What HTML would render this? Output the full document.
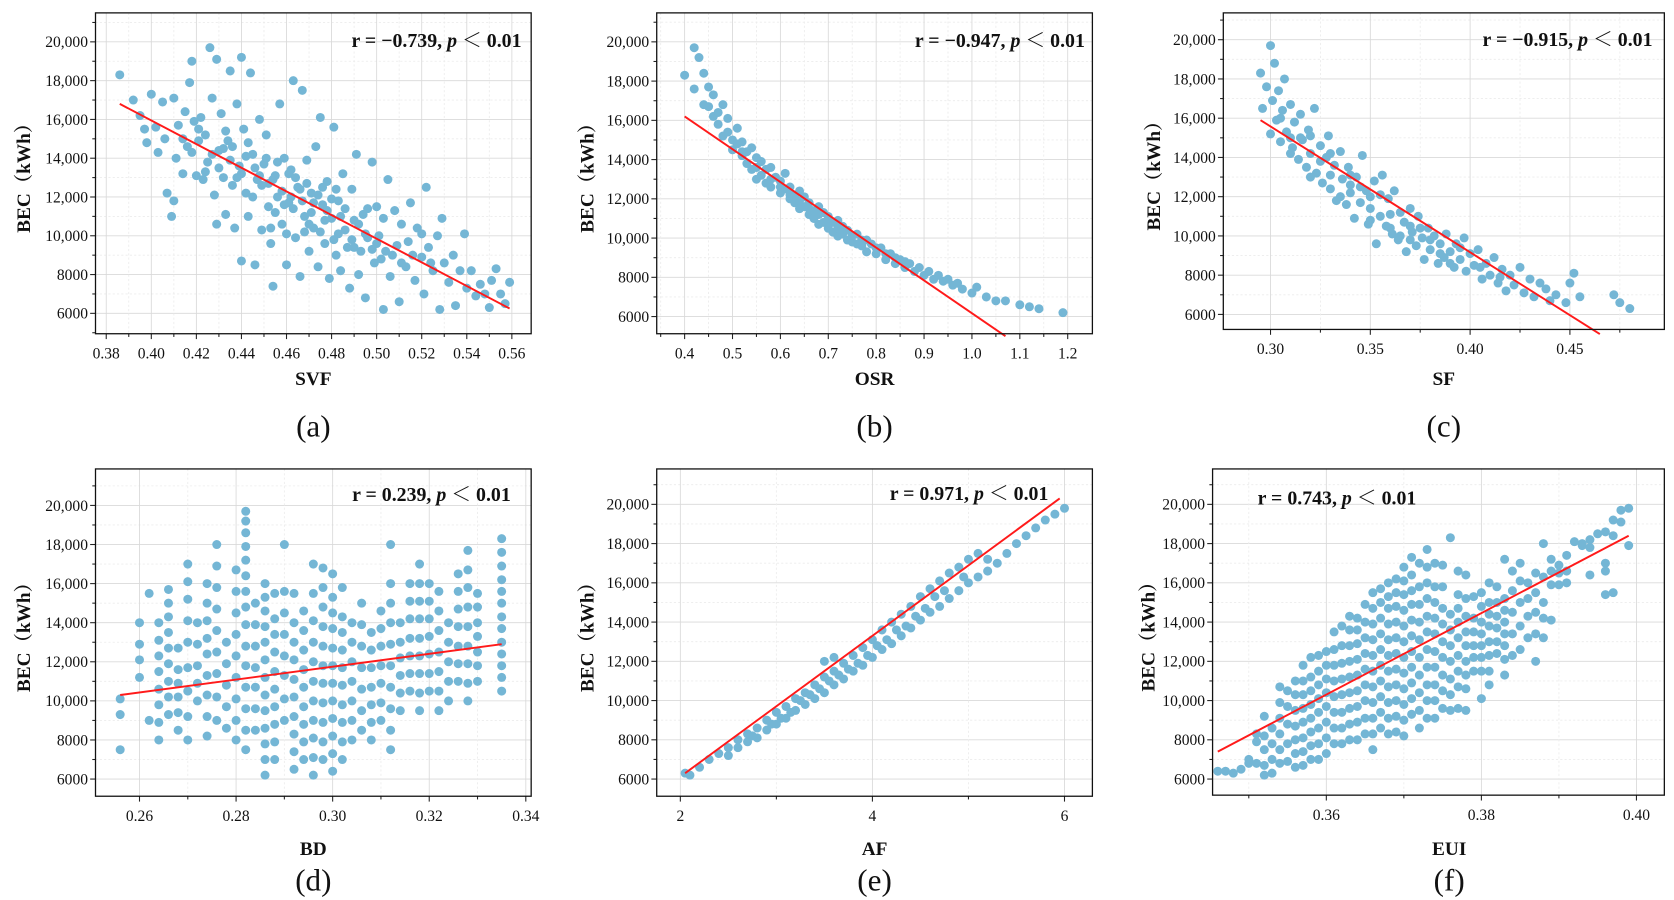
<!DOCTYPE html>
<html><head><meta charset="utf-8"><style>
html,body{margin:0;padding:0;background:#fff;}
svg{display:block;}
text{font-family:"Liberation Serif","Noto Serif CJK SC",serif;fill:#111;}
</style></head><body>
<svg id="fig" width="1674" height="900" viewBox="0 0 1560 838.7" xmlns="http://www.w3.org/2000/svg"></svg>
<script>
// ---- data (BEC in thousand kWh) ----
const svfX=[0.386,0.392,0.395,0.397,0.398,0.400,0.402,0.403,0.405,0.406,0.407,0.409,0.410,0.410,0.411,0.412,0.414,0.415,0.416,0.417,0.418,0.419,0.420,0.421,0.422,0.423,0.424,0.425,0.426,0.427,0.428,0.429,0.429,0.430,0.431,0.432,0.433,0.434,0.435,0.436,0.437,0.438,0.439,0.440,0.440,0.441,0.442,0.443,0.444,0.445,0.446,0.447,0.448,0.449,0.450,0.451,0.452,0.453,0.454,0.455,0.456,0.457,0.458,0.459,0.460,0.461,0.462,0.463,0.464,0.465,0.466,0.467,0.468,0.469,0.470,0.471,0.472,0.473,0.474,0.475,0.476,0.477,0.478,0.479,0.480,0.481,0.482,0.483,0.484,0.485,0.486,0.488,0.489,0.490,0.491,0.492,0.494,0.495,0.496,0.498,0.499,0.500,0.501,0.503,0.504,0.505,0.506,0.508,0.509,0.510,0.511,0.513,0.514,0.515,0.517,0.518,0.520,0.521,0.522,0.523,0.525,0.527,0.528,0.529,0.530,0.532,0.534,0.535,0.537,0.539,0.540,0.542,0.544,0.546,0.548,0.550,0.551,0.553,0.555,0.557,0.559,0.445,0.448,0.452,0.455,0.458,0.461,0.463,0.466,0.468,0.471,0.474,0.477,0.480,0.483,0.486,0.489,0.492,0.495,0.498,0.502,0.438,0.442,0.435,0.432,0.427,
 0.440,0.443,0.446,0.449,0.451,0.454,0.456,0.459,0.462,0.464,0.467,0.469,0.472,0.475,0.478,0.481,0.484,0.487,0.490,0.493,0.496,0.500,0.503,0.507,0.511,0.516,0.520,0.524,0.418,0.414,0.421,0.424,0.430,0.433,0.436,0.453,0.460,0.470,0.476,0.482];
const svfY=[18.3,17.0,16.2,15.5,14.8,17.3,15.6,14.3,16.9,15.0,12.2,11.0,11.8,17.1,14.0,15.7,13.2,16.4,14.6,17.9,19.0,15.9,13.1,14.9,16.1,12.9,15.2,13.8,19.7,17.1,12.1,10.6,19.1,14.4,16.3,13.0,11.1,14.9,18.5,12.6,10.4,16.8,13.6,19.2,8.7,15.5,12.2,11.0,18.4,14.2,8.5,12.9,16.0,10.3,13.7,15.2,11.5,9.6,7.4,13.1,12.0,16.8,10.6,14.0,8.5,11.7,13.4,18.0,9.9,12.5,7.9,17.5,11.0,13.9,9.2,12.2,10.4,14.6,8.4,16.1,11.6,9.6,12.8,7.8,10.9,15.6,9.0,11.8,8.2,13.2,10.3,7.3,12.4,9.4,14.2,8.0,11.1,6.8,9.9,13.8,8.6,11.5,10.0,6.2,9.2,12.9,7.9,11.3,9.5,6.6,10.6,8.4,9.7,11.7,7.7,10.4,8.9,7.0,12.5,9.4,8.2,10.0,6.2,10.9,8.6,7.6,9.0,6.4,8.2,10.1,7.3,8.2,6.9,7.5,7.0,6.3,7.7,8.3,7.0,6.5,7.6,12.0,13.1,12.7,11.2,12.3,13.2,11.4,12.4,10.2,11.2,12.1,10.8,11.9,10.1,11.4,9.8,10.6,10.1,9.3,8.8,13.0,14.1,13.9,14.5,14.2,
 13.2,14.8,13.5,12.6,14.0,12.9,13.8,11.6,12.0,13.0,11.8,12.7,11.7,10.2,11.3,9.8,11.0,9.4,10.8,9.2,11.4,9.6,10.9,9.0,8.6,9.0,10.1,8.6,14.3,15.0,15.5,13.3,13.5,15.4,14.6,10.4,10.1,10.6,12.5,12.4];
const osrX=[0.40,0.42,0.43,0.42,0.44,0.44,0.45,0.46,0.46,0.47,0.48,0.48,0.49,0.50,0.50,0.51,0.52,0.52,0.53,0.54,0.54,0.55,0.56,0.56,0.57,0.58,0.58,0.59,0.60,0.60,0.61,0.62,0.62,0.63,0.64,0.64,0.65,0.66,0.66,0.67,0.68,0.68,0.69,0.70,0.70,0.71,0.72,0.72,0.73,0.74,0.74,0.75,0.76,0.77,0.78,0.78,0.79,0.80,0.81,0.82,0.83,0.84,0.85,0.86,0.87,0.88,0.89,0.90,0.91,0.92,0.93,0.94,0.95,0.96,0.97,0.98,1.00,1.01,1.03,1.05,1.07,1.10,1.12,1.14,1.19,0.55,0.57,0.61,0.63,0.65,0.67,0.69,0.71,0.73,0.76,0.53,0.51,0.47,
 0.45,0.49,0.52,0.55,0.58,0.60,0.62,0.64,0.66,0.68,0.70,0.72,0.75,0.77,0.80,0.82,0.84,0.86];
const osrY=[18.3,19.7,19.2,17.6,18.4,16.8,17.7,16.2,17.3,15.8,16.8,15.2,16.1,15.0,14.5,15.6,14.2,14.9,13.8,14.6,13.5,14.1,13.2,13.9,12.8,13.6,12.6,13.1,12.3,12.9,13.3,12.0,12.6,11.8,12.4,11.5,12.1,11.2,11.8,11.0,11.6,10.7,11.3,10.5,11.1,10.3,10.9,10.1,10.6,9.9,10.4,9.8,10.2,9.6,9.9,9.3,9.7,9.2,9.5,8.9,9.2,8.7,8.9,8.5,8.7,8.3,8.5,8.1,8.3,7.9,8.1,7.8,7.9,7.6,7.7,7.4,7.2,7.5,7.0,6.8,6.8,6.6,6.5,6.4,6.2,13.0,13.5,12.5,12.2,11.6,11.4,10.8,10.8,10.2,9.7,14.4,14.8,16.4,
 16.7,15.4,14.4,13.6,13.0,12.6,12.2,11.9,11.5,11.2,10.8,10.5,10.1,9.9,9.5,9.2,9.0,8.8];
const sfX=[0.295,0.296,0.298,0.300,0.300,0.301,0.302,0.303,0.304,0.305,0.306,0.307,0.308,0.310,0.311,0.312,0.314,0.315,0.316,0.318,0.319,0.320,0.322,0.323,0.325,0.326,0.328,0.329,0.330,0.332,0.333,0.335,0.336,0.338,0.339,0.340,0.342,0.343,0.345,0.346,0.348,0.349,0.350,0.352,0.353,0.355,0.356,0.358,0.359,0.361,0.362,0.364,0.365,0.367,0.368,0.370,0.371,0.373,0.374,0.376,0.377,0.379,0.380,0.382,0.384,0.385,0.387,0.388,0.390,0.392,0.393,0.395,0.397,0.398,0.400,0.402,0.404,0.406,0.408,0.410,0.412,0.414,0.416,0.418,0.420,0.422,0.425,0.427,0.430,0.432,0.435,0.438,0.440,0.443,0.448,0.450,0.452,0.455,0.472,0.475,0.480,0.31,0.32,0.33,0.34,0.35,0.36,0.37,0.38,
 0.305,0.31,0.315,0.32,0.325,0.33,0.335,0.34,0.345,0.35,0.355,0.36,0.365,0.37,0.375,0.385,0.39,0.395,0.405,0.415];
const sfY=[18.3,16.5,17.6,19.7,15.2,16.9,18.8,15.9,17.4,14.8,16.4,18.0,15.3,16.7,14.5,15.8,13.9,16.2,14.9,13.5,15.4,14.2,16.5,13.2,14.6,12.7,14.0,15.1,12.4,13.6,11.8,14.3,12.9,11.6,13.5,12.2,10.9,13.0,11.7,14.1,12.3,10.6,11.4,12.8,9.6,11.0,13.1,10.5,11.9,10.1,12.3,9.8,11.2,10.7,9.2,11.4,10.2,9.5,11.0,9.9,8.8,10.4,9.3,10.0,8.6,9.6,8.9,10.1,9.2,8.4,9.6,8.8,9.9,8.2,9.1,8.5,9.3,7.8,8.6,8.0,8.9,7.6,8.3,7.2,8.0,7.5,8.4,7.1,7.8,6.9,7.6,7.3,6.7,7.0,6.6,7.6,8.1,6.9,7.0,6.6,6.3,15.0,15.1,13.1,12.6,12.0,11.1,10.5,9.8,
 16.0,14.2,15.0,13.0,13.8,14.2,12.0,13.1,12.5,10.8,12.1,10.4,10.0,9.8,10.4,9.1,8.6,9.4,8.4,7.9];
const bdCols=[0.256,0.260,0.262,0.264,0.266,0.268,0.270,0.272,0.274,0.276,0.278,0.280,0.282,0.284,0.286,0.288,0.290,0.292,0.294,0.296,0.298,0.300,0.302,0.304,0.306,0.308,0.310,0.312,0.314,0.316,0.318,0.320,0.322,0.324,0.326,0.328,0.330,0.335];
const bdVals=[[7.5,9.3,10.1],[11.2,12.1,12.9,14.0],[9.0,15.5],[8.0,8.9,9.8,10.6,11.5,12.3,13.1,14.0],[9.3,10.2,11.0,11.9,12.7,13.5,14.3,15.0,15.7],[8.5,9.4,10.2,10.9,11.6,12.7],[8.0,9.2,10.5,11.7,13.0,14.1,15.2,16.1,17.0],[10.0,10.9,11.8,12.9,14.0],[8.2,9.2,10.3,11.3,12.4,13.2,14.1,15.0,16.0],[9.0,10.2,11.4,12.5,13.6,14.7,15.8,16.9,18.0],[8.6,9.7,10.8,11.9,13.0],[8.0,9.0,10.1,11.2,12.3,13.4,14.5,15.6,16.7],[7.5,8.5,9.6,10.7,11.8,12.8,13.9,14.8,15.6,16.4,17.2,17.9,18.6,19.2,19.7],[8.5,9.6,10.7,11.7,12.8,13.9,15.0],[6.2,7.0,7.8,8.6,9.5,10.3,11.2,12.1,13.0,13.8,14.6,15.3,16.0],[7.0,7.9,8.8,9.7,10.6,11.5,12.5,13.4,14.2,15.5],[9.0,10.1,11.3,12.3,13.4,14.5,15.6,18.0],[6.5,7.4,8.3,9.2,10.2,11.1,12.1,13.0,14.0,15.5],[7.0,7.9,8.8,9.7,10.7,11.6,12.6,13.6,14.6],[6.2,7.1,8.1,9.0,10.0,11.0,12.0,13.0,14.1,15.5,17.0],[7.0,7.9,8.9,9.9,10.9,11.8,12.8,13.8,14.8,15.8,16.8],[6.4,7.3,8.2,9.1,10.0,10.9,11.8,12.7,13.7,14.5,15.3,16.5],[7.0,7.9,8.9,9.8,10.8,11.7,12.6,13.5,14.3,15.8],[8.0,9.0,10.0,11.0,12.0,13.0,14.0],[8.5,9.5,10.6,11.7,12.8,13.9,15.0],[8.0,8.9,9.8,10.7,11.7,12.6,13.5],[9.0,9.9,10.9,11.8,12.8,13.7,14.6],[7.5,8.5,9.6,10.7,11.8,12.9,14.0,15.0,16.0,18.0],[9.5,10.4,11.3,12.2,13.0,14.0],[10.5,11.4,12.3,13.2,14.2,15.1,16.0],[9.5,10.4,11.4,12.3,13.2,14.2,15.1,16.0,17.0],[10.5,11.4,12.4,13.3,14.2,15.1,16.0],[9.5,10.5,11.5,12.5,13.6,14.6,15.6],[10.0,11.0,12.0,13.0,14.0],[11.0,11.9,12.8,13.8,14.7,15.6,16.5],[10.0,10.9,11.9,12.8,13.8,14.8,15.8,16.7,17.7],[11.0,11.8,12.5,13.3,14.0,14.8,15.5],[10.5,11.2,11.8,12.4,13.0,13.7,14.3,15.0,15.6,16.2,16.9,17.6,18.3]];
const afX=[2.05,2.1,2.2,2.3,2.4,2.5,2.5,2.6,2.6,2.7,2.7,2.8,2.8,2.9,2.9,3.0,3.0,3.1,3.1,3.2,3.2,3.3,3.3,3.4,3.4,3.5,3.5,3.6,3.6,3.7,3.7,3.8,3.8,3.9,3.9,4.0,4.0,4.1,4.1,4.2,4.2,4.3,4.3,4.4,4.4,4.5,4.5,4.6,4.6,4.7,4.7,4.8,4.8,4.9,4.9,5.0,5.0,5.1,5.1,5.2,5.3,5.4,5.5,5.6,5.7,5.8,5.9,6.0,5.2,3.45,3.65,3.85,4.05,4.25,4.45,4.65,3.25,3.05,3.5,3.6,
 3.15,3.35,3.55,3.75,3.95,4.15,4.35,4.55,4.75,4.95,2.75,2.95];
const afY=[6.3,6.2,6.6,7.0,7.3,7.6,7.2,8.0,7.6,8.3,7.9,8.6,8.1,9.0,8.5,9.4,8.8,9.7,9.1,10.1,9.5,10.4,9.8,10.8,10.1,11.2,10.4,11.5,10.8,11.9,11.1,12.3,11.5,12.7,11.8,13.1,12.2,13.6,12.6,14.0,12.9,14.4,13.3,14.8,13.7,15.3,14.1,15.7,14.5,16.1,14.8,16.5,15.2,16.8,15.6,17.2,16.0,17.5,16.3,17.2,17.0,17.5,18.0,18.4,18.8,19.2,19.5,19.8,16.6,10.6,11.3,11.9,12.8,13.6,14.3,15.3,10.0,9.1,12.0,12.2,
 9.4,10.3,11.0,11.6,12.3,13.1,13.8,14.7,15.6,16.3,8.2,8.8];
const euiCols=[0.346,0.347,0.348,0.349,0.350,0.351,0.352,0.353,0.354,0.355,0.356,0.357,0.358,0.359,0.360,0.361,0.362,0.363,0.364,0.365,0.366,0.367,0.368,0.369,0.370,0.371,0.372,0.373,0.374,0.375,0.376,0.377,0.378,0.379,0.380,0.381,0.382,0.383,0.384,0.385,0.386,0.387,0.388,0.389,0.390,0.391,0.392,0.393,0.394,0.395,0.396,0.397,0.398,0.399];
const euiVals=[[6.4],[6.4],[6.3],[6.5],[6.8,7.0],[6.8,7.9,8.3],[6.2,6.7,7.5,8.2,9.2],[6.3,7.0,7.8,8.6],[6.8,7.5,8.3,9.1,9.9,10.7],[6.9,7.8,8.8,9.7,10.5],[6.6,7.3,8.0,8.7,9.5,10.3,11.0],[6.7,7.4,8.1,8.9,9.6,10.3,11.0,11.8],[7.0,7.7,8.4,9.1,9.8,10.5,11.2,12.2],[7.0,7.8,8.6,9.4,10.1,10.8,11.5,12.3],[7.3,8.1,8.9,9.7,10.4,11.1,11.8,12.5],[7.8,8.6,9.4,10.2,11.0,11.8,12.6,13.5],[7.8,8.6,9.4,10.3,11.1,11.9,12.8,13.8],[8.0,8.8,9.6,10.4,11.2,12.0,12.8,13.6,14.3],[8.0,8.9,9.7,10.5,11.3,12.1,12.9,13.6,14.2],[8.3,9.1,10.0,10.8,11.6,12.4,13.2,14.0,14.9],[7.5,8.3,9.1,9.9,10.7,11.5,12.3,13.1,13.9,14.7,15.5],[8.6,9.4,10.2,11.0,11.8,12.6,13.4,14.2,15.0,15.7],[8.3,9.1,9.9,10.7,11.5,12.3,13.1,13.9,14.7,15.3,16.0],[8.4,9.2,10.0,10.8,11.6,12.4,13.2,14.0,14.8,15.5,16.2],[8.2,9.0,9.8,10.6,11.4,12.2,13.0,13.8,14.6,15.4,16.1,16.8],[9.3,10.1,10.9,11.7,12.5,13.3,14.1,14.9,15.6,16.4,17.3],[8.6,9.5,10.4,11.3,12.2,13.1,14.0,14.9,15.8,17.0],[9.1,10.0,10.8,11.7,12.6,13.5,14.3,15.2,16.0,16.8,17.7],[9.1,10.0,10.8,11.7,12.5,13.4,14.2,15.0,15.8,17.0],[9.6,10.5,11.3,12.2,13.0,13.9,14.7,15.8,16.9],[9.5,10.3,11.1,12.0,12.8,13.6,14.4,18.3],[9.6,10.7,11.5,12.3,13.2,14.0,14.7,15.4,16.6],[9.5,10.6,11.3,12.0,12.8,13.5,14.3,15.2,16.4],[11.5,12.2,12.8,13.5,14.2,15.3],[10.1,11.5,12.2,12.8,13.4,14.0,14.8,15.5],[10.8,11.5,12.3,13.0,13.8,14.4,15.0,16.0],[12.4,13.0,13.7,14.3,15.0,15.8],[11.3,12.1,12.8,13.4,14.0,14.6,15.2,17.2],[12.3,13.4,14.5,15.6,16.6],[12.6,13.8,15.0,16.1,17.0],[13.2,14.3,15.2,16.0],[12.0,13.4,14.5,15.5,16.5],[13.2,14.2,15.0,16.3,18.0],[14.1,15.9,16.6,17.2],[15.9,16.5,16.9],[16.0,16.6,17.4],[18.1],[17.9,18.0],[16.4,17.8,18.2],[18.5],[15.4,16.6,17.0,18.6],[15.5,18.4,19.2],[19.1,19.7],[17.9,19.8]];
// fit lines: [x0,y0,x1,y1]
const fitA=[0.386,16.8,0.559,6.25];
const fitB=[0.40,16.2,1.07,5.0];
const fitC=[0.295,15.9,0.465,5.0];
const fitD=[0.256,10.3,0.335,12.9];
const fitE=[2.05,6.3,5.95,20.3];
const fitF=[0.346,7.4,0.399,18.4];
const yTicks=[6,8,10,12,14,16,18,20];
const yTickLabels=["6000","8000","10,000","12,000","14,000","16,000","18,000","20,000"];
const stats=["r = \u22120.739, ","r = \u22120.947, ","r = \u22120.915, ","r = 0.239, ","r = 0.743, ","r = 0.971, "];

const NS="http://www.w3.org/2000/svg";
const svg=document.getElementById('fig');
function mk(tag,attrs,parent){const e=document.createElementNS(NS,tag);for(const k in attrs)e.setAttribute(k,attrs[k]);(parent||svg).appendChild(e);return e;}

function flatten(cols,vals){const xs=[],ys=[];cols.forEach((c,i)=>vals[i].forEach(v=>{xs.push(c);ys.push(v);}));return [xs,ys];}
const bd=flatten(bdCols,bdVals), eui=flatten(euiCols,euiVals);

const panels=[
 {id:'a',box:[89,495,12,311],xr:[0.38,99,0.56,477],yr:[20,39,6,292],xt:[0.38,0.40,0.42,0.44,0.46,0.48,0.50,0.52,0.54,0.56],xd:2,minor:0.01,xs:svfX,ys:svfY,fit:fitA,title:'SVF',stat:0,anchor:'end',ax:486,ay:44,ylx:22},
 {id:'b',box:[612,1018,12,311],xr:[0.4,638,1.2,995],yr:[20,39,6,295],xt:[0.4,0.5,0.6,0.7,0.8,0.9,1.0,1.1,1.2],xd:1,minor:0.05,xs:osrX,ys:osrY,fit:fitB,title:'OSR',stat:1,anchor:'end',ax:1011,ay:44,ylx:547},
 {id:'c',box:[1140,1551,12,307],xr:[0.30,1184,0.45,1463],yr:[20,37,6,293],xt:[0.30,0.35,0.40,0.45],xd:2,minor:0.025,xs:sfX,ys:sfY,fit:fitC,title:'SF',stat:2,anchor:'end',ax:1540,ay:43,ylx:1075},
 {id:'d',box:[89,495,437,742],xr:[0.26,130,0.34,490],yr:[20,471,6,726],xt:[0.26,0.28,0.30,0.32,0.34],xd:2,minor:0.01,xs:bd[0],ys:bd[1],fit:fitD,title:'BD',stat:3,anchor:'end',ax:476,ay:467,ylx:22},
 {id:'e',box:[612,1018,437,742],xr:[2,634,6,992],yr:[20,470,6,726],xt:[2,4,6],xd:0,minor:1,xs:afX,ys:afY,fit:fitE,title:'AF',stat:5,anchor:'end',ax:977,ay:466,ylx:547},
 {id:'f',box:[1130,1551,437,741],xr:[0.36,1236,0.40,1525],yr:[20,470,6,726],xt:[0.36,0.38,0.40],xd:2,minor:0.01,xs:eui[0],ys:eui[1],fit:fitF,title:'EUI',stat:4,anchor:'start',ax:1172,ay:470,ylx:1070}
];

panels.forEach(p=>{
 const [x0,x1,y0,y1]=p.box;
 const sx=v=>p.xr[1]+(v-p.xr[0])*(p.xr[3]-p.xr[1])/(p.xr[2]-p.xr[0]);
 const sy=v=>p.yr[1]+(v-p.yr[0])*(p.yr[3]-p.yr[1])/(p.yr[2]-p.yr[0]);
 const inv=px=>p.xr[0]+(px-p.xr[1])*(p.xr[2]-p.xr[0])/(p.xr[3]-p.xr[1]);
 const g=mk('g',{});
 
 
 mk('rect',{x:x0,y:y0,width:x1-x0,height:y1-y0,fill:'#fff'},g);
 const grid=mk('g',{},g);
 
 
 for(let v=5;v<=21;v++){const y=sy(v);if(y<y0+1||y>y1-1)continue;
  mk('line',{x1:x0,x2:x1,y1:y,y2:y,stroke:v%2===0?'#d9d9d9':'#ececec','stroke-width':0.8,'stroke-dasharray':v%2===0?'':'2,2'},grid);}
 const step=p.minor, lo=inv(x0), hi=inv(x1);
 for(let k=Math.ceil(lo/step-1e-6);k*step<=hi+1e-9;k++){const v=k*step,x=sx(v);if(x<x0+1||x>x1-1)continue;
  const major=p.xt.some(t=>Math.abs(t-v)<1e-6);
  mk('line',{x1:x,x2:x,y1:y0,y2:y1,stroke:major?'#d9d9d9':'#ececec','stroke-width':0.8,'stroke-dasharray':major?'':'2,2'},grid);
  mk('line',{x1:x,x2:x,y1:y1,y2:y1+(major?5:3),stroke:'#222','stroke-width':1},g);}
 for(let v=5;v<=21;v++){const y=sy(v);if(y<y0||y>y1)continue;
  mk('line',{x1:x0,x2:x0-(v%2===0?5:3),y1:y,y2:y,stroke:'#222','stroke-width':1},g);}
 yTicks.forEach((v,i)=>{const t=mk('text',{x:x0-7,y:sy(v)+5,'text-anchor':'end','font-size':14.5},g);t.textContent=yTickLabels[i];
  
  });
 p.xt.forEach(v=>{const t=mk('text',{x:sx(v),y:y1+23,'text-anchor':'middle','font-size':14.5},g);t.textContent=v.toFixed(p.xd);
  
  });
 const pts=mk('g',{fill:'#74b6d5'},g);
 
 
 p.xs.forEach((xv,i)=>{const c=mk('circle',{cx:sx(xv),cy:sy(p.ys[i]),r:4.2},pts);
  
  });
 const f=p.fit;
 const ln=mk('line',{x1:sx(f[0]),y1:sy(f[1]),x2:sx(f[2]),y2:sy(f[3]),stroke:'#ff1a1a','stroke-width':1.8},g);
 
 
 const fr=mk('rect',{x:x0,y:y0,width:x1-x0,height:y1-y0,fill:'none',stroke:'#111','stroke-width':1.2},g);
 
 
 const an=mk('text',{x:p.ax,y:p.ay,'text-anchor':p.anchor,'font-size':18.5,'font-weight':'bold'},g);
 
 
 const t1=mk('tspan',{},an);t1.textContent=stats[p.stat];
 const t2=mk('tspan',{'font-style':'italic'},an);t2.textContent='p';
 const t3=mk('tspan',{},an);t3.textContent=' \uff1c 0.01';
 const cx=(x0+x1)/2, cy=(y0+y1)/2;
 const yl=mk('text',{x:0,y:0,transform:`translate(${p.ylx+6},${cy}) rotate(-90)`,'text-anchor':'middle','font-size':18,'font-weight':'bold'},g);
 yl.textContent='BEC\uff08kWh\uff09';
 
 
 const top=p.box[2]<100;
 const xl=mk('text',{x:cx+(p.id==='f'?10:0),y:top?359:797,'text-anchor':'middle','font-size':18,'font-weight':'bold'},g);
 xl.textContent=p.title;
 
 
 const pl=mk('text',{x:cx+(p.id==='f'?10:0),y:top?407:830,'text-anchor':'middle','font-size':29},g);
 pl.textContent='('+p.id+')';
 
 
});
</script>
</body></html>
